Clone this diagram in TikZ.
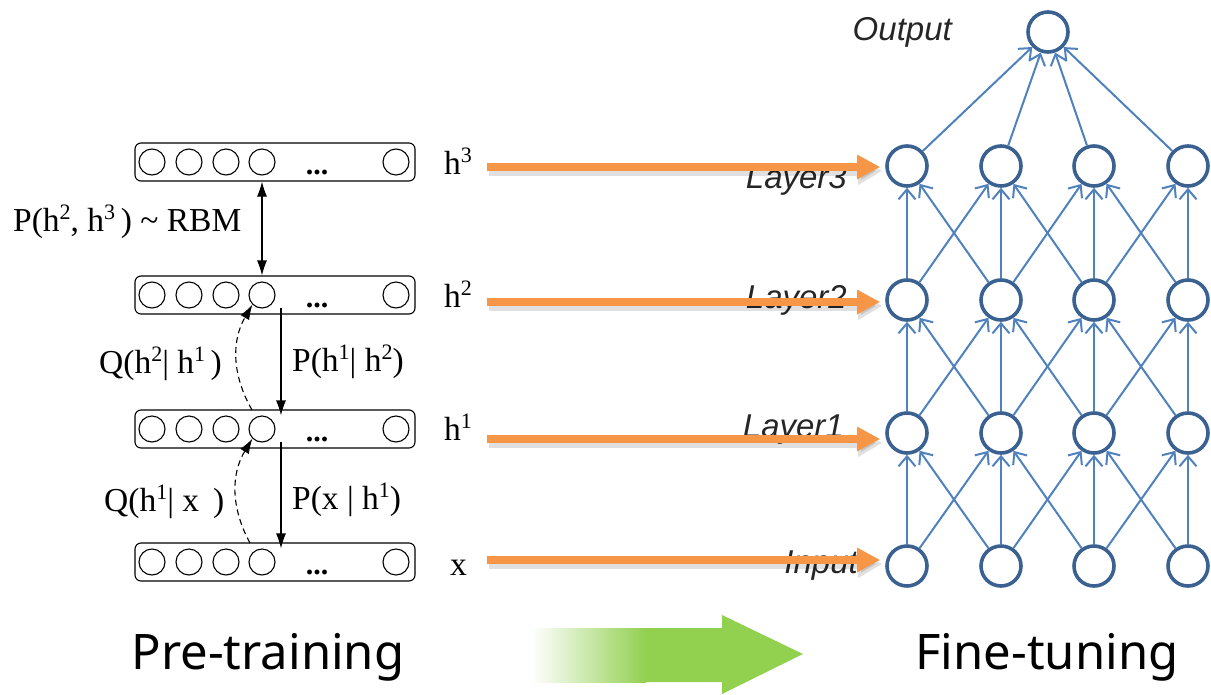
\documentclass[tikz,border=0pt]{standalone}
\usepackage{fontspec}
\setmainfont{Liberation Serif}
\newfontfamily\netfont{Liberation Sans}
\newfontfamily\capfont{Noto Sans}
\usetikzlibrary{arrows.meta,calc}
\definecolor{netline}{HTML}{4F81BD}
\definecolor{netnode}{HTML}{3B6190}
\definecolor{feed}{HTML}{F79646}
\definecolor{stagegreen}{HTML}{92D050}
\newcommand{\up}[1]{\raisebox{0.75ex}{\fontsize{22}{22}\selectfont #1}}
\begin{document}
\begin{tikzpicture}[x=1pt,y=-1pt,
  unit/.style={circle,draw,line width=1.1pt,minimum size=26pt,inner sep=0pt},
  layerbox/.style={draw,rounded corners=6pt,line width=1.1pt,minimum width=280pt,minimum height=38pt,inner sep=0pt},
  serif/.style={font=\fontsize{33.5}{38}\selectfont},
  dots/.style={font=\bfseries\fontsize{30}{36}\selectfont,anchor=base,inner sep=0pt},
  solidarrow/.style={line width=1.1pt,-{Latex[length=15pt,width=10pt]}},
  bothway/.style={line width=1.1pt,{Latex[length=15pt,width=10pt]}-{Latex[length=15pt,width=10pt]}},
  dasharrow/.style={line width=1.1pt,dash pattern=on 6pt off 4pt,-{Latex[length=15pt,width=10pt]}},
  neuron/.style={circle,draw=netnode,line width=3.6pt,minimum size=40pt,inner sep=0pt},
  link/.style={draw=netline,line width=2pt,-{Straight Barb[length=10pt,width=17pt]}},
  netlabel/.style={font=\netfont\itshape\fontsize{33}{38}\selectfont,text=black!85,anchor=base east,inner sep=0pt},
  feedarrow/.style={draw=feed,line width=8pt,-{Triangle[length=23pt,width=23pt]}},
  feedshadow/.style={draw=black,opacity=0.12,line width=10pt,-{Triangle[length=24pt,width=26pt]}},
  caption/.style={font=\capfont\fontsize{49}{56}\selectfont,inner sep=0pt}
]
\useasboundingbox (0,0) rectangle (1211,694);

% ---------------- stacked layers of the deep belief network ----------------
\foreach \name/\y in {bh3/162,bh2/295,bh1/429,bx/562}{
  \node[layerbox] (\name) at (275,\y) {};
  \foreach \k/\x in {a/152,b/189,c/226,d/262,e/396}
    \node[unit] (\name-\k) at (\x,\y) {};
  \node[dots] (\name-dots) at (317,\y+12) {...};
}

% layer names
\node[serif,anchor=base west,inner sep=0pt] (lh3) at (444,174) {h\up{3}};
\node[serif,anchor=base west,inner sep=0pt] (lh2) at (444,307) {h\up{2}};
\node[serif,anchor=base west,inner sep=0pt] (lh1) at (444,440) {h\up{1}};
\node[serif,anchor=base west,inner sep=0pt] (lx)  at (450,575) {x};

% top-level RBM
\draw[bothway] (bh3.south -| bh3-d) -- (bh2.north -| bh3-d);
\node[serif,anchor=west,inner sep=0pt] (rbm) at (13,222)
  {P(h\up{2}, h\up{3}\,) \textasciitilde{} RBM};

% generative (down) connections
\coordinate (g2) at (281,308);
\coordinate (g1) at (281,442);
\draw[solidarrow] (g2) -- ($(bh1.north -| g2)+(0,6)$);
\draw[solidarrow] (g1) -- ($(bx.north -| g1)+(0,6)$);
\node[serif,anchor=west,inner sep=0pt] (p12) at (292,362) {P(h\up{1}| h\up{2})};
\node[serif,anchor=west,inner sep=0pt] (px1) at (292,500) {P(x | h\up{1})};

% recognition (up) connections
\coordinate (r1) at (252,410);
\coordinate (r0) at (250,543);
\draw[dasharrow] (r1) to[bend left=30] (bh2-d.south west);
\draw[dasharrow] (r0) to[bend left=30] (bh1-d.south west);
\node[serif,anchor=west,inner sep=0pt] (q21) at (99,364) {Q(h\up{2}| h\up{1}\,)};
\node[serif,anchor=west,inner sep=0pt] (q1x) at (104,502) {Q(h\up{1}| x\ \,)};

% ---------------- feed-forward network ----------------
\node[neuron] (out) at (1048,32) {};
\foreach \row/\y in {l3/166,l2/300,l1/433,in/566}
  \foreach \c/\x in {1/907,2/1001,3/1094,4/1188}
    \node[neuron] (\row-\c) at (\x,\y) {};

\foreach \lo/\hi in {in/l1,l1/l2,l2/l3}
  \foreach \a/\b in {1/1,1/2,2/1,2/2,2/3,3/2,3/3,3/4,4/3,4/4}
    \draw[link] (\lo-\a) -- (\hi-\b);
\foreach \a in {1,...,4}
  \draw[link] (l3-\a) -- (out);

\node[netlabel] (tout) at (952,40) {Output};
\node[netlabel] (tl3) at (847,188) {Layer3};
\node[netlabel] (tl2) at (847,308) {Layer2};
\node[netlabel] (tl1) at (844,437) {Layer1};
\node[netlabel] (tin) at (858,573) {Input};

% ---------------- transfer of weights ----------------
\coordinate (s3) at (487,167);
\coordinate (s2) at (487,302);
\coordinate (s1) at (487,439);
\coordinate (s0) at (487,560);
\foreach \s/\t in {s3/l3-1,s2/l2-1,s1/l1-1,s0/in-1}{
  \draw[feedshadow] ($(\s)+(2,4)$) -- ($(\s -| \t.west)+(-3,4)$);
  \draw[feedarrow] (\s) -- ($(\s -| \t.west)+(-5,0)$);
}

% ---------------- stage captions ----------------
\node[caption] (pre) at (268,657) {Pre-training};
\node[caption] (fine) at (1047,657) {Fine-tuning};
\shade[left color=white,right color=stagegreen] (532,628) rectangle (646,682);
\fill[stagegreen] (645,628) -- (722,628) -- (722,615) -- (803,654)
  -- (722,694) -- (722,682) -- (645,682) -- cycle;
\end{tikzpicture}
\end{document}
